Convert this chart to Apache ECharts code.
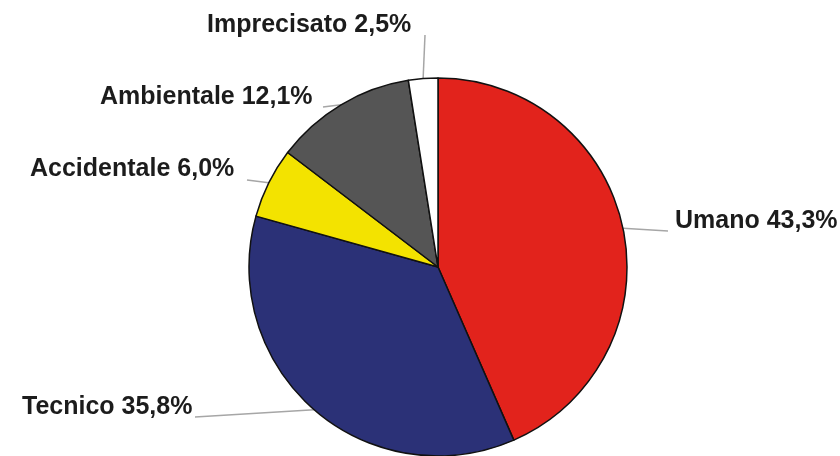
<!DOCTYPE html>
<html>
<head>
<meta charset="utf-8">
<style>
  html, body { margin: 0; padding: 0; background: #ffffff; }
  #chart { width: 840px; height: 456px; }
</style>
<script src="https://cdn.jsdelivr.net/npm/echarts@6/dist/echarts.min.js"></script>
</head>
<body>
<div id="chart"></div>
<script>
// ---- data ----
const categories = ['Umano', 'Tecnico', 'Accidentale', 'Ambientale', 'Imprecisato'];
const values = [43.3, 35.8, 6.0, 12.1, 2.5];
const colors = ['#e2231c', '#2b3177', '#f3e300', '#555555', '#ffffff'];

// ---- label layout (left x, middle y of text; end of leader line) ----
const labelPos = [
  { x: 675, y: 221, end: [668, 231] },
  { x: 22,  y: 407, end: [195, 417] },
  { x: 30,  y: 169, end: [247, 180] },
  { x: 100, y: 97,  end: [323, 107] },
  { x: 207, y: 25,  end: [425, 35] }
];

const chart = echarts.init(document.getElementById('chart'), null, { renderer: 'canvas' });

const seriesData = categories.map((name, i) => ({
  name: name,
  value: values[i],
  itemStyle: { color: colors[i] }
}));

chart.setOption({
  animation: false,
  backgroundColor: '#ffffff',
  series: [{
    type: 'pie',
    center: [438, 267],
    radius: [0, 189],
    startAngle: 90,
    clockwise: true,
    data: seriesData,
    itemStyle: { borderColor: '#111111', borderWidth: 1.5 },
    label: {
      show: true,
      position: 'outside',
      formatter: p => p.name + ' ' + p.value.toFixed(1).replace('.', ',') + '%',
      fontFamily: '"Liberation Sans", Arial, sans-serif',
      fontWeight: 'bold',
      fontSize: 25,
      color: '#1c1c1c'
    },
    labelLine: {
      show: true,
      length: 5,
      length2: 5,
      lineStyle: { color: '#a6a6a6', width: 1.5 }
    },
    labelLayout: function (params) {
      const lp = labelPos[params.dataIndex];
      const start = params.labelLinePoints ? params.labelLinePoints[0] : lp.end;
      return {
        x: lp.x,
        y: lp.y,
        align: 'left',
        verticalAlign: 'middle',
        labelLinePoints: [start, start, lp.end]
      };
    }
  }]
});
</script>
</body>
</html>
